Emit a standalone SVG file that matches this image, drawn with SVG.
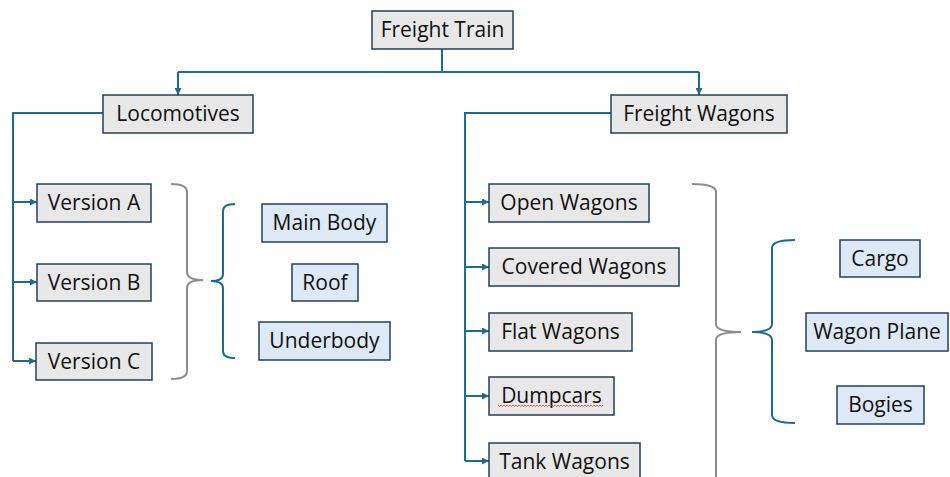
<svg xmlns="http://www.w3.org/2000/svg" width="950" height="477" viewBox="0 0 950 477">
<defs>
<marker id="arr" viewBox="0 0 7 7" refX="7" refY="3.5" markerWidth="7" markerHeight="7" markerUnits="userSpaceOnUse" orient="auto">
<path d="M0,0 L7,3.5 L0,7 z" fill="#1f6b8f"/>
</marker>
<style>
.g rect{fill:#e8e8e8;stroke:#243f5a;stroke-width:1.5}
.b rect{fill:#dde9f6;stroke:#243f5a;stroke-width:1.5}
text{font-family:"Open Sans","Liberation Sans",sans-serif;font-size:21px;fill:#111;text-anchor:middle}
.c{fill:none;stroke:#1f6b8f;stroke-width:2}
.br{fill:none;stroke:#1f6b8f;stroke-width:2}
.gr{fill:none;stroke:#8c8c8c;stroke-width:2}
</style>
</defs>
<rect width="950" height="477" fill="#fff"/>
<g id="connectors">
<path class="c" d="M442,49 V72"/>
<path class="c" d="M178,72 H699"/>
<path class="c" d="M178,72 V95" marker-end="url(#arr)"/>
<path class="c" d="M699,72 V95" marker-end="url(#arr)"/>
<path class="c" d="M103,113 H13 V361"/>
<path class="c" d="M13,202 H37" marker-end="url(#arr)"/>
<path class="c" d="M13,282 H37" marker-end="url(#arr)"/>
<path class="c" d="M13,361 H36" marker-end="url(#arr)"/>
<path class="c" d="M611,113 H465 V461"/>
<path class="c" d="M465,202 H489" marker-end="url(#arr)"/>
<path class="c" d="M465,267 H489" marker-end="url(#arr)"/>
<path class="c" d="M465,331 H489" marker-end="url(#arr)"/>
<path class="c" d="M465,396 H489" marker-end="url(#arr)"/>
<path class="c" d="M465,461 H489" marker-end="url(#arr)"/>
</g>
<g id="braces">
<path class="gr" d="M171,184 Q187,184 187,192 L187,272 Q187,280 203,280 Q187,280 187,288 L187,371 Q187,379 171,379"/>
<path class="br" d="M235,204 Q223,204 223,211 L223,274 Q223,281 211,281 Q223,281 223,288 L223,351 Q223,358 235,358"/>
<path class="gr" d="M692,184 Q716,184 716,192 L716,324 Q716,332 741,332 Q716,332 716,340 L716,480"/>
<path class="br" d="M795,240 Q772,240 772,248 L772,324 Q772,332 752,332 Q772,332 772,340 L772,415 Q772,423 795,423"/>
</g>
<g id="freight-train" class="g"><rect x="372" y="11" width="141" height="38"/><text x="442.5" y="37">Freight Train</text></g>
<g id="locomotives" class="g"><rect x="103" y="95" width="150" height="38"/><text x="178" y="121">Locomotives</text></g>
<g id="freight-wagons" class="g"><rect x="611" y="95" width="176" height="38"/><text x="699" y="121">Freight Wagons</text></g>
<g id="version-a" class="g"><rect x="37" y="184" width="114" height="38"/><text x="94" y="210">Version A</text></g>
<g id="version-b" class="g"><rect x="37" y="264" width="114" height="37"/><text x="94" y="290">Version B</text></g>
<g id="version-c" class="g"><rect x="36" y="343" width="116" height="37"/><text x="94" y="369">Version C</text></g>
<g id="main-body" class="b"><rect x="262" y="204" width="125" height="38"/><text x="324.5" y="230">Main Body</text></g>
<g id="roof" class="b"><rect x="292" y="264" width="66" height="37"/><text x="325" y="290">Roof</text></g>
<g id="underbody" class="b"><rect x="259" y="322" width="131" height="38"/><text x="324.5" y="348">Underbody</text></g>
<g id="open-wagons" class="g"><rect x="489" y="184" width="160" height="38"/><text x="569" y="210">Open Wagons</text></g>
<g id="covered-wagons" class="g"><rect x="489" y="248" width="190" height="38"/><text x="584" y="274">Covered Wagons</text></g>
<g id="flat-wagons" class="g"><rect x="489" y="313" width="143" height="38"/><text x="560.5" y="339">Flat Wagons</text></g>
<g id="dumpcars" class="g"><rect x="489" y="377" width="125" height="38"/><text x="551.5" y="403">Dumpcars</text>
<path d="M498,405 l1.5,1.5 l1.5,-1.5 l1.5,1.5 l1.5,-1.5 l1.5,1.5 l1.5,-1.5 l1.5,1.5 l1.5,-1.5 l1.5,1.5 l1.5,-1.5 l1.5,1.5 l1.5,-1.5 l1.5,1.5 l1.5,-1.5 l1.5,1.5 l1.5,-1.5 l1.5,1.5 l1.5,-1.5 l1.5,1.5 l1.5,-1.5 l1.5,1.5 l1.5,-1.5 l1.5,1.5 l1.5,-1.5 l1.5,1.5 l1.5,-1.5 l1.5,1.5 l1.5,-1.5 l1.5,1.5 l1.5,-1.5 l1.5,1.5 l1.5,-1.5 l1.5,1.5 l1.5,-1.5 l1.5,1.5 l1.5,-1.5 l1.5,1.5 l1.5,-1.5 l1.5,1.5 l1.5,-1.5 l1.5,1.5 l1.5,-1.5 l1.5,1.5 l1.5,-1.5 l1.5,1.5 l1.5,-1.5 l1.5,1.5 l1.5,-1.5 l1.5,1.5 l1.5,-1.5 l1.5,1.5 l1.5,-1.5 l1.5,1.5 l1.5,-1.5 l1.5,1.5 l1.5,-1.5 l1.5,1.5 l1.5,-1.5 l1.5,1.5 l1.5,-1.5 l1.5,1.5 l1.5,-1.5 l1.5,1.5 l1.5,-1.5 l1.5,1.5 l1.5,-1.5 l1.5,1.5 l1.5,-1.5 l1.5,1.5 l1.5,-1.5" fill="none" stroke="#e03030" stroke-width="0.8"/></g>
<g id="tank-wagons" class="g"><rect x="489" y="443" width="151" height="38"/><text x="564.5" y="469">Tank Wagons</text></g>
<g id="cargo" class="b"><rect x="840" y="240" width="80" height="37"/><text x="880" y="266">Cargo</text></g>
<g id="wagon-plane" class="b"><rect x="806" y="313" width="142" height="38"/><text x="877" y="339">Wagon Plane</text></g>
<g id="bogies" class="b"><rect x="837" y="386" width="87" height="38"/><text x="880.5" y="412">Bogies</text></g>
</svg>
